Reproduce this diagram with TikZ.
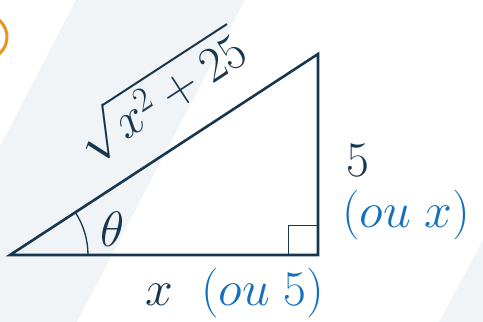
\documentclass[tikz,border=0pt]{standalone}
\usepackage{amsmath}
\usetikzlibrary{calc,angles}
\definecolor{navy}{HTML}{17374F}
\definecolor{oublue}{HTML}{1470BD}
\definecolor{band}{HTML}{F1F4F6}
\definecolor{tag}{HTML}{E8961E}
\begin{document}
\begin{tikzpicture}[x=0.5pt,y=-0.5pt,
  lbl/.style={text=navy,font=\fontsize{26.5}{30}\selectfont,inner sep=0pt}]
\useasboundingbox (0,0) rectangle (483,322);
\fill[band] (76,0)--(245,0)--(77,322)--(0,322)--(0,146)--cycle;
\fill[band] (483,240)--(483,322)--(439,322)--cycle;
\draw[tag,line width=1.5pt] (-15,37) circle(22);
\coordinate (A) at (10,255);
\coordinate (B) at (318,255);
\coordinate (C) at (318,54);
\draw[navy,line width=1.3pt] (A)--(B)--(C)--cycle;
\draw[navy,line width=0.5pt] ($(B)+(-30,0)$) rectangle ($(B)+(0,-30)$);
\pic[draw=navy,line width=0.65pt,angle radius=39pt] {angle=B--A--C};
\node[lbl,rotate=33.1] (hyp) at (160,95) {$\sqrt{x^2+25}$};
\node[lbl] (theta) at (113,229) {$\theta$};
\node[lbl] (five) at (358,160) {$5$};
\node[lbl,text=oublue] (ouX) at (406,215) {$(ou\;x)$};
\node[lbl] (base) at (235,293) {$x\;\;\textcolor{oublue}{(ou\;5)}$};
\end{tikzpicture}
\end{document}
